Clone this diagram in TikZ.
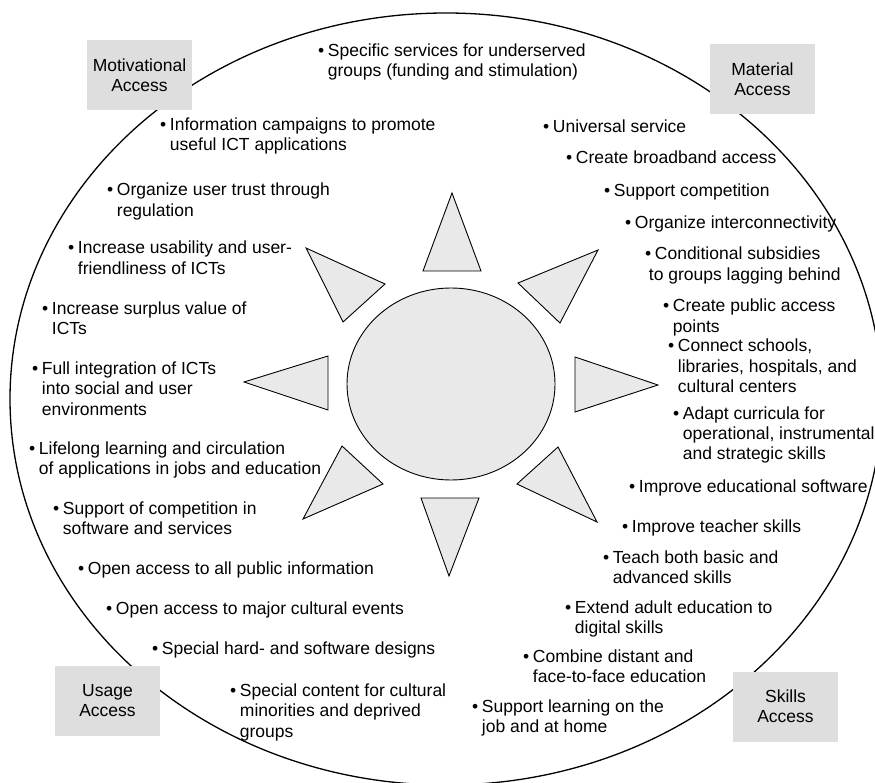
\documentclass[tikz,border=0pt]{standalone}
\usepackage{fontspec}
\setmainfont{Liberation Sans}
\definecolor{boxfill}{RGB}{222,222,222}
\definecolor{trifill}{RGB}{233,233,233}
\newcommand{\itm}[1]{\begin{tabular}[t]{@{}l@{\hspace{3.6pt}}l@{}}\textbullet & #1\end{tabular}}
\begin{document}
\begin{tikzpicture}[x=1pt,y=-1pt,
  txt/.style={font=\fontsize{17.5}{20.3}\selectfont, inner sep=0pt, anchor=base west},
  lbl/.style={font=\fontsize{17.5}{20}\selectfont, align=center, fill=boxfill, minimum width=105pt, minimum height=70pt, inner sep=0pt},
  ray/.style={draw=black, fill=trifill, line width=0.9pt, line join=miter},
  rim/.style={draw=black, line width=1.3pt}]
\useasboundingbox (0,0) rectangle (875,783);
% outer ellipse
\draw[rim] (446,399) ellipse [x radius=436pt, y radius=386pt];
% centre
\draw[ray] (451,384) ellipse [x radius=104pt, y radius=96pt];
% rays
\draw[ray] (452,193) -- (423,271) -- (481,271) -- cycle;
\draw[ray] (598,250) -- (518,283) -- (560,323) -- cycle;
\draw[ray] (658,385) -- (575,357) -- (575,412) -- cycle;
\draw[ray] (597,522) -- (517,484) -- (558,447) -- cycle;
\draw[ray] (449,576) -- (421,498) -- (479,498) -- cycle;
\draw[ray] (303,519) -- (342,446) -- (383,484) -- cycle;
\draw[ray] (244,382) -- (328,356) -- (328,410) -- cycle;
\draw[ray] (306,248) -- (385,284) -- (343,322) -- cycle;
% corner labels
\node[lbl] (mot) at (139.5,75) {Motivational\\Access};
\node[lbl] (mat) at (762.5,79.5) {Material\\Access};
\node[lbl] (usa) at (107.5,700.5) {Usage\\Access};
\node[lbl] (ski) at (785.5,706.5) {Skills\\Access};
% top
\node[txt] (t1) at (318,56.5) {\itm{Specific services for underserved\\&groups (funding and stimulation)}};
% left column
\node[txt] (l1) at (160,130.5) {\itm{Information campaigns to promote\\&useful ICT applications}};
\node[txt] (l2) at (107,196) {\itm{Organize user trust through\\&regulation}};
\node[txt] (l3) at (68,254) {\itm{Increase usability and user-\\&friendliness of ICTs}};
\node[txt] (l4) at (42,314.5) {\itm{Increase surplus value of\\&ICTs}};
\node[txt] (l5) at (32,374.5) {\itm{Full integration of ICTs\\&into social and user\\&environments}};
\node[txt] (l6) at (29,454.5) {\itm{Lifelong learning and circulation\\&of applications in jobs and education}};
\node[txt] (l7) at (53,514) {\itm{Support of competition in\\&software and services}};
\node[txt] (l8) at (78,574.5) {\itm{Open access to all public information}};
\node[txt] (l9) at (106,614.5) {\itm{Open access to major cultural events}};
\node[txt] (l10) at (152,654.5) {\itm{Special hard- and software designs}};
\node[txt] (l11) at (230,696.5) {\itm{Special content for cultural\\&minorities and deprived\\&groups}};
% right column
\node[txt] (r1) at (543,132.5) {\itm{Universal service}};
\node[txt] (r2) at (566,164) {\itm{Create broadband access}};
\node[txt] (r3) at (604,197) {\itm{Support competition}};
\node[txt] (r4) at (625,229) {\itm{Organize interconnectivity}};
\node[txt] (r5) at (645,260) {\itm{Conditional subsidies\\&\hspace*{-6pt}to groups lagging behind}};
\node[txt] (r6) at (663,312) {\itm{Create public access\\&points}};
\node[txt] (r7) at (668,352) {\itm{Connect schools,\\&libraries, hospitals, and\\&cultural centers}};
\node[txt] (r8) at (673,419) {\itm{Adapt curricula for\\&operational, instrumental\\&and strategic skills}};
\node[txt] (r9) at (629,492) {\itm{Improve educational software}};
\node[txt] (r10) at (622,532.5) {\itm{Improve teacher skills}};
\node[txt] (r11) at (603,563) {\itm{Teach both basic and\\&advanced skills}};
\node[txt] (r12) at (565,613) {\itm{Extend adult education to\\&digital skills}};
\node[txt] (r13) at (523,662.5) {\itm{Combine distant and\\&face-to-face education}};
\node[txt] (r14) at (472,712.5) {\itm{Support learning on the\\&job and at home}};
\end{tikzpicture}
\end{document}
